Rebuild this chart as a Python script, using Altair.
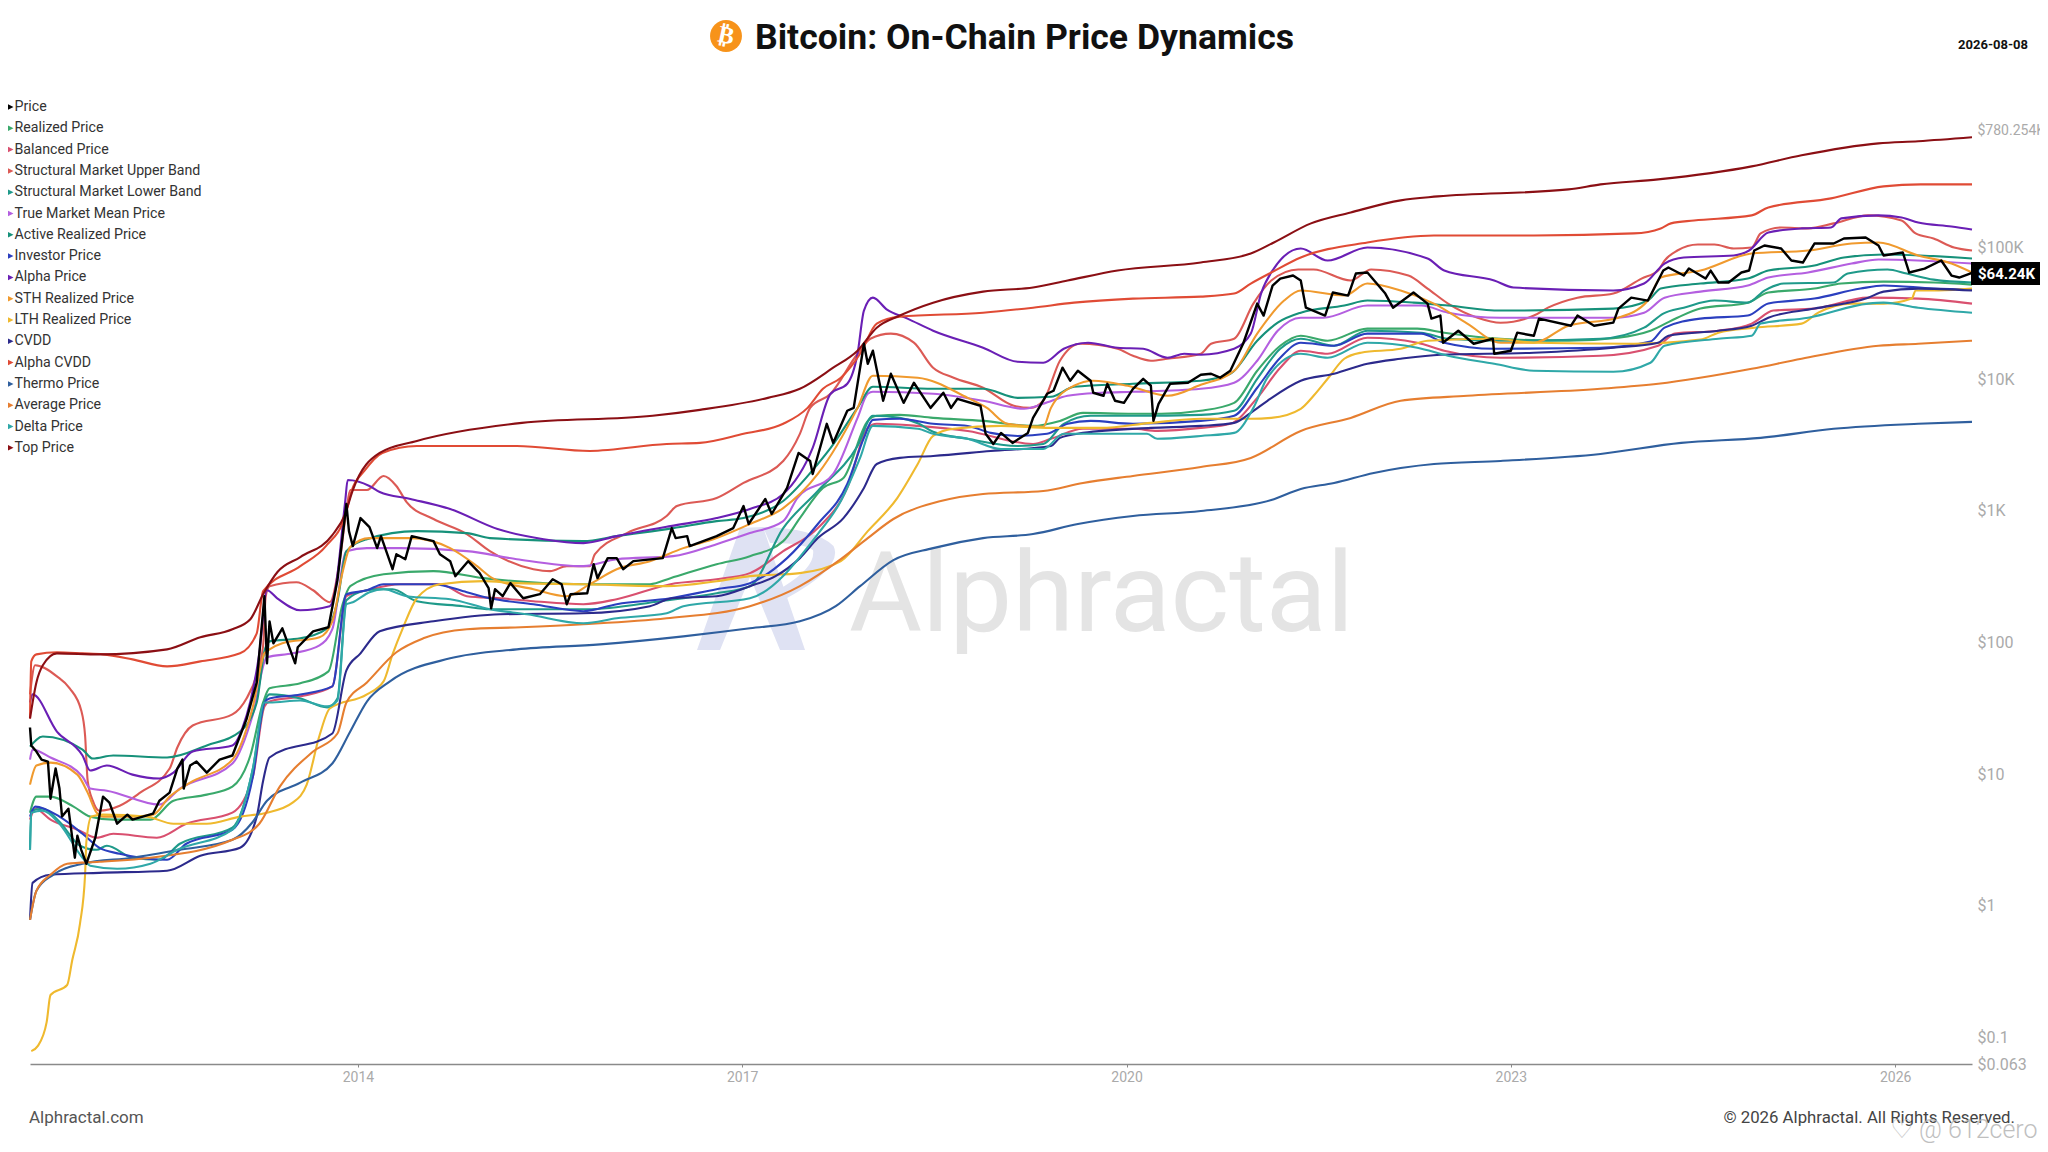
import altair as alt
import pandas as pd

# Each series: (decimal year, log10 of USD price).
TOP = [(2011.44,1.423),(2011.49,1.697),(2011.54,1.827),(2011.65,1.918),(2011.98,1.910),(2012.51,1.948),(2012.77,2.040),(2013.02,2.101),(2013.16,2.177),(2013.26,2.367),(2013.37,2.534),(2013.55,2.649),(2013.80,2.816),(2013.90,2.976),(2013.96,3.158),(2014.17,3.440),(2014.46,3.531),(2015.28,3.668),(2016.30,3.722),(2016.67,3.767),(2017.20,3.858),(2017.45,3.927),(2017.71,4.087),(2017.90,4.216),(2018.05,4.391),(2018.23,4.483),(2018.49,4.581),(2018.88,4.665),(2019.27,4.696),(2019.54,4.749),(2019.93,4.825),(2020.58,4.886),(2020.97,4.954),(2021.15,5.038),(2021.44,5.183),(2021.75,5.266),(2022.14,5.358),(2022.43,5.388),(2023.45,5.441),(2023.70,5.479),(2024.15,5.517),(2024.88,5.616),(2025.27,5.700),(2025.87,5.791),(2026.18,5.807),(2026.60,5.837)]
ALPHA_CVDD = [(2011.44,1.423),(2011.45,1.857),(2011.49,1.910),(2011.65,1.926),(2011.85,1.918),(2012.01,1.910),(2012.24,1.872),(2012.51,1.819),(2012.77,1.857),(2013.08,1.918),(2013.21,2.070),(2013.26,2.390),(2013.55,2.580),(2013.75,2.732),(2013.90,2.961),(2013.95,3.151),(2014.05,3.303),(2014.19,3.440),(2014.46,3.493),(2015.24,3.493),(2015.81,3.455),(2016.41,3.508),(2016.67,3.516),(2017.01,3.585),(2017.32,3.661),(2017.51,3.782),(2017.63,3.927),(2017.77,4.011),(2017.92,4.193),(2018.05,4.422),(2018.23,4.475),(2018.88,4.505),(2019.27,4.543),(2019.59,4.581),(2020.05,4.612),(2020.58,4.627),(2020.84,4.650),(2020.97,4.726),(2021.13,4.810),(2021.36,4.924),(2021.88,5.038),(2022.40,5.091),(2023.18,5.091),(2023.96,5.107),(2024.17,5.145),(2024.25,5.183),(2024.43,5.205),(2024.88,5.244),(2025.01,5.304),(2025.50,5.373),(2025.91,5.464),(2026.20,5.479),(2026.60,5.479)]
STRUCT_UPPER = [(2011.44,1.606),(2011.48,1.827),(2011.65,1.743),(2011.75,1.652),(2011.84,1.484),(2011.87,1.294),(2011.89,0.951),(2011.93,0.799),(2011.98,0.723),(2012.14,0.761),(2012.30,0.860),(2012.53,1.043),(2012.59,1.203),(2012.71,1.370),(2013.02,1.454),(2013.13,1.575),(2013.21,1.758),(2013.26,1.979),(2013.28,2.352),(2013.31,2.428),(2013.52,2.458),(2013.65,2.397),(2013.78,2.306),(2013.86,2.633),(2013.91,3.006),(2013.94,3.158),(2014.07,3.158),(2014.20,3.265),(2014.30,3.189),(2014.38,3.067),(2014.59,2.938),(2014.85,2.824),(2015.03,2.694),(2015.37,2.557),(2015.50,2.542),(2015.63,2.580),(2015.81,2.580),(2015.85,2.671),(2016.10,2.831),(2016.41,2.961),(2016.49,3.037),(2016.80,3.097),(2017.01,3.212),(2017.32,3.379),(2017.45,3.585),(2017.53,3.782),(2017.69,3.889),(2017.90,4.193),(2018.00,4.307),(2018.16,4.346),(2018.34,4.277),(2018.49,4.087),(2018.65,4.011),(2018.88,3.935),(2019.12,3.798),(2019.25,3.782),(2019.35,3.836),(2019.48,4.140),(2019.64,4.269),(2019.93,4.231),(2020.05,4.178),(2020.19,4.140),(2020.32,4.155),(2020.58,4.193),(2020.66,4.269),(2020.84,4.307),(2020.99,4.574),(2021.13,4.749),(2021.34,4.833),(2021.46,4.833),(2021.75,4.749),(2021.91,4.833),(2022.20,4.787),(2022.35,4.688),(2022.51,4.574),(2022.74,4.467),(2022.92,4.429),(2023.18,4.483),(2023.29,4.543),(2023.52,4.619),(2023.80,4.650),(2024.02,4.764),(2024.15,4.825),(2024.20,4.901),(2024.30,4.977),(2024.46,5.023),(2024.59,5.023),(2024.74,4.992),(2024.88,5.000),(2024.95,5.107),(2025.11,5.152),(2025.32,5.145),(2025.52,5.183),(2025.79,5.244),(2026.05,5.205),(2026.16,5.107),(2026.30,5.068),(2026.46,5.000),(2026.60,4.977)]
ALPHA_PRICE = [(2011.44,1.545),(2011.46,1.606),(2011.65,1.324),(2011.85,1.142),(2011.91,1.028),(2012.04,1.066),(2012.24,0.997),(2012.45,0.967),(2012.56,1.012),(2012.71,1.172),(2013.02,1.218),(2013.10,1.355),(2013.23,1.918),(2013.29,2.397),(2013.37,2.336),(2013.55,2.245),(2013.78,2.276),(2013.82,2.382),(2013.90,3.067),(2013.92,3.234),(2014.09,3.189),(2014.17,3.143),(2014.41,3.090),(2014.72,3.014),(2015.09,2.862),(2015.45,2.785),(2015.76,2.755),(2016.02,2.808),(2016.44,2.884),(2016.80,2.945),(2017.06,3.014),(2017.32,3.128),(2017.55,3.478),(2017.69,3.889),(2017.82,3.965),(2017.90,4.193),(2017.95,4.521),(2018.02,4.619),(2018.13,4.528),(2018.29,4.460),(2018.49,4.368),(2018.88,4.239),(2019.15,4.132),(2019.35,4.125),(2019.51,4.231),(2019.70,4.277),(2019.93,4.239),(2020.13,4.231),(2020.32,4.163),(2020.45,4.193),(2020.58,4.186),(2020.84,4.231),(2020.97,4.346),(2021.05,4.650),(2021.15,4.840),(2021.36,4.992),(2021.57,4.901),(2021.88,5.000),(2022.35,4.916),(2022.48,4.825),(2022.87,4.749),(2023.02,4.696),(2023.80,4.673),(2024.04,4.726),(2024.20,4.878),(2024.35,4.924),(2024.74,4.939),(2024.86,4.977),(2025.01,5.114),(2025.27,5.145),(2025.50,5.152),(2025.58,5.221),(2025.87,5.244),(2026.05,5.228),(2026.18,5.190),(2026.44,5.160),(2026.60,5.137)]
ACTIVE = [(2011.44,1.210),(2011.54,1.286),(2011.85,1.187),(2011.93,1.119),(2012.09,1.142),(2012.51,1.127),(2012.82,1.218),(2013.08,1.324),(2013.21,1.545),(2013.27,1.933),(2013.31,2.009),(2013.55,2.032),(2013.76,2.108),(2013.84,2.314),(2013.91,2.694),(2014.07,2.785),(2014.46,2.846),(2014.85,2.831),(2015.03,2.793),(2015.76,2.770),(2016.02,2.808),(2016.46,2.869),(2016.80,2.922),(2017.01,2.945),(2017.32,3.075),(2017.59,3.356),(2017.69,3.478),(2017.90,3.782),(2018.02,3.942),(2018.49,3.927),(2018.88,3.927),(2019.15,3.858),(2019.41,3.866),(2019.59,3.942),(2020.05,3.965),(2020.58,3.988),(2020.81,4.041),(2021.02,4.292),(2021.18,4.429),(2021.36,4.505),(2021.70,4.559),(2021.88,4.597),(2022.24,4.581),(2022.51,4.559),(2022.92,4.521),(2023.80,4.536),(2024.07,4.597),(2024.17,4.688),(2024.48,4.726),(2024.85,4.764),(2025.01,4.825),(2025.37,4.863),(2025.60,4.924),(2025.91,4.947),(2026.60,4.916)]
TRUE_MEAN = [(2011.44,1.111),(2011.46,1.187),(2011.60,1.127),(2011.85,0.982),(2011.91,0.891),(2012.04,0.875),(2012.45,0.769),(2012.61,0.891),(2013.02,1.081),(2013.18,1.454),(2013.29,1.888),(2013.49,1.918),(2013.70,1.979),(2013.80,2.101),(2013.91,2.694),(2014.07,2.717),(2014.33,2.717),(2014.85,2.694),(2015.24,2.633),(2015.76,2.580),(2016.02,2.633),(2016.46,2.656),(2016.80,2.747),(2017.06,2.831),(2017.32,2.922),(2017.43,3.097),(2017.71,3.280),(2017.90,3.706),(2017.98,3.889),(2018.02,3.904),(2018.49,3.889),(2018.88,3.836),(2019.20,3.775),(2019.35,3.813),(2019.54,3.874),(2019.80,3.897),(2020.05,3.904),(2020.58,3.927),(2020.84,3.973),(2021.02,4.140),(2021.18,4.368),(2021.36,4.467),(2021.54,4.467),(2021.88,4.559),(2022.30,4.559),(2022.51,4.505),(2022.92,4.467),(2023.80,4.467),(2024.04,4.505),(2024.20,4.619),(2024.48,4.665),(2024.85,4.711),(2025.01,4.772),(2025.32,4.810),(2025.66,4.878),(2025.87,4.909),(2026.60,4.878)]
STH = [(2011.44,0.921),(2011.49,1.066),(2011.60,1.088),(2011.81,0.997),(2011.89,0.860),(2011.96,0.708),(2012.01,0.678),(2012.24,0.678),(2012.40,0.693),(2012.53,0.830),(2012.69,0.936),(2013.02,1.111),(2013.18,1.515),(2013.27,1.918),(2013.31,1.948),(2013.41,1.994),(2013.70,2.040),(2013.80,2.161),(2013.88,2.534),(2013.94,2.725),(2014.09,2.793),(2014.41,2.793),(2014.72,2.717),(2014.93,2.580),(2015.05,2.489),(2015.37,2.405),(2015.63,2.352),(2015.81,2.443),(2016.02,2.557),(2016.28,2.618),(2016.54,2.717),(2016.80,2.793),(2017.06,2.900),(2017.32,3.021),(2017.59,3.280),(2017.90,3.782),(2018.02,4.026),(2018.37,4.011),(2018.76,3.858),(2018.91,3.782),(2019.07,3.661),(2019.35,3.638),(2019.41,3.782),(2019.59,3.950),(2019.74,3.988),(2020.01,3.950),(2020.32,3.874),(2020.58,3.957),(2020.84,4.064),(2021.02,4.346),(2021.23,4.597),(2021.36,4.673),(2021.70,4.635),(2021.88,4.726),(2022.14,4.673),(2022.40,4.574),(2022.66,4.422),(2022.92,4.277),(2023.18,4.277),(2023.45,4.406),(2023.84,4.467),(2024.07,4.597),(2024.17,4.772),(2024.48,4.825),(2024.88,4.954),(2025.32,4.977),(2025.66,5.030),(2025.87,5.038),(2026.18,4.939),(2026.44,4.878),(2026.60,4.810)]
PRICE = [(2011.44,1.355),(2011.45,1.218),(2011.49,1.172),(2011.53,1.111),(2011.58,1.096),(2011.60,0.814),(2011.64,1.043),(2011.67,0.891),(2011.69,0.678),(2011.74,0.738),(2011.79,0.366),(2011.81,0.533),(2011.84,0.426),(2011.88,0.320),(2011.95,0.518),(2012.01,0.830),(2012.06,0.784),(2012.12,0.624),(2012.20,0.693),(2012.24,0.655),(2012.40,0.700),(2012.45,0.799),(2012.53,0.860),(2012.59,1.043),(2012.63,1.111),(2012.64,0.891),(2012.69,1.066),(2012.74,1.096),(2012.82,1.012),(2012.92,1.111),(2013.02,1.142),(2013.13,1.416),(2013.21,1.697),(2013.27,2.352),(2013.29,1.842),(2013.31,2.161),(2013.34,1.994),(2013.41,2.108),(2013.51,1.842),(2013.53,1.964),(2013.65,2.085),(2013.77,2.116),(2013.84,2.473),(2013.91,3.052),(2013.93,2.846),(2013.96,2.732),(2014.02,2.945),(2014.09,2.877),(2014.15,2.717),(2014.18,2.808),(2014.27,2.557),(2014.30,2.671),(2014.37,2.633),(2014.42,2.808),(2014.59,2.770),(2014.64,2.671),(2014.72,2.618),(2014.76,2.504),(2014.86,2.618),(2014.95,2.527),(2015.02,2.413),(2015.04,2.260),(2015.07,2.405),(2015.13,2.352),(2015.19,2.451),(2015.29,2.336),(2015.42,2.367),(2015.52,2.481),(2015.59,2.443),(2015.63,2.291),(2015.66,2.367),(2015.79,2.374),(2015.84,2.595),(2015.87,2.489),(2015.95,2.641),(2016.02,2.641),(2016.07,2.557),(2016.15,2.618),(2016.38,2.641),(2016.45,2.869),(2016.48,2.793),(2016.57,2.808),(2016.59,2.732),(2016.80,2.808),(2016.93,2.869),(2017.01,3.037),(2017.05,2.900),(2017.18,3.090),(2017.23,2.976),(2017.35,3.174),(2017.44,3.440),(2017.53,3.379),(2017.55,3.280),(2017.66,3.661),(2017.71,3.516),(2017.82,3.760),(2017.87,3.782),(2017.95,4.269),(2017.98,4.117),(2018.02,4.216),(2018.10,3.836),(2018.16,4.041),(2018.26,3.820),(2018.34,3.973),(2018.47,3.782),(2018.57,3.897),(2018.63,3.782),(2018.68,3.851),(2018.86,3.798),(2018.90,3.585),(2018.96,3.508),(2019.02,3.592),(2019.11,3.516),(2019.23,3.592),(2019.27,3.706),(2019.38,3.889),(2019.43,3.912),(2019.50,4.087),(2019.56,3.988),(2019.62,4.064),(2019.72,3.988),(2019.74,3.897),(2019.82,3.874),(2019.85,3.965),(2019.91,3.836),(2019.98,3.820),(2020.05,3.927),(2020.13,4.003),(2020.19,3.950),(2020.21,3.683),(2020.25,3.813),(2020.34,3.965),(2020.48,3.973),(2020.58,4.034),(2020.66,4.041),(2020.73,4.011),(2020.81,4.064),(2020.91,4.269),(2021.02,4.574),(2021.07,4.483),(2021.14,4.711),(2021.20,4.764),(2021.30,4.787),(2021.36,4.749),(2021.40,4.543),(2021.55,4.483),(2021.61,4.658),(2021.73,4.635),(2021.79,4.802),(2021.88,4.810),(2022.02,4.650),(2022.08,4.543),(2022.24,4.658),(2022.35,4.574),(2022.38,4.460),(2022.45,4.483),(2022.47,4.277),(2022.59,4.368),(2022.71,4.269),(2022.86,4.307),(2022.87,4.193),(2023.00,4.216),(2023.05,4.353),(2023.18,4.330),(2023.22,4.460),(2023.47,4.406),(2023.52,4.483),(2023.65,4.406),(2023.80,4.429),(2023.84,4.536),(2023.94,4.619),(2024.07,4.597),(2024.19,4.825),(2024.23,4.848),(2024.35,4.787),(2024.39,4.840),(2024.52,4.764),(2024.56,4.825),(2024.62,4.734),(2024.70,4.734),(2024.80,4.810),(2024.86,4.825),(2024.90,4.977),(2024.98,5.015),(2025.11,4.992),(2025.19,4.901),(2025.28,4.886),(2025.37,5.030),(2025.52,5.030),(2025.60,5.068),(2025.77,5.076),(2025.87,5.015),(2025.91,4.939),(2026.06,4.962),(2026.11,4.810),(2026.23,4.840),(2026.36,4.901),(2026.44,4.787),(2026.50,4.772),(2026.60,4.808)]
REALIZED = [(2011.44,0.708),(2011.49,0.830),(2011.60,0.830),(2011.78,0.754),(2011.91,0.678),(2012.09,0.655),(2012.38,0.655),(2012.56,0.799),(2012.82,0.845),(2013.02,0.906),(2013.16,1.142),(2013.26,1.545),(2013.31,1.652),(2013.55,1.690),(2013.77,1.781),(2013.88,2.291),(2013.94,2.428),(2014.20,2.519),(2014.59,2.542),(2014.98,2.489),(2015.76,2.443),(2016.28,2.443),(2016.44,2.489),(2016.80,2.595),(2017.06,2.656),(2017.32,2.770),(2017.45,2.945),(2017.63,3.174),(2017.79,3.250),(2017.98,3.683),(2018.05,3.722),(2018.23,3.729),(2018.49,3.706),(2018.88,3.683),(2019.27,3.645),(2019.48,3.683),(2019.66,3.744),(2020.05,3.737),(2020.27,3.737),(2020.58,3.760),(2020.84,3.820),(2021.02,4.064),(2021.20,4.254),(2021.36,4.330),(2021.57,4.292),(2021.88,4.384),(2022.27,4.384),(2022.48,4.353),(2022.92,4.307),(2023.45,4.292),(2023.84,4.315),(2024.09,4.368),(2024.30,4.467),(2024.48,4.536),(2024.85,4.581),(2025.01,4.658),(2025.37,4.688),(2025.58,4.726),(2025.91,4.741),(2026.30,4.734),(2026.60,4.718)]
INVESTOR = [(2011.44,0.678),(2011.48,0.754),(2011.67,0.678),(2011.85,0.548),(2011.98,0.442),(2012.14,0.396),(2012.51,0.350),(2012.66,0.472),(2013.02,0.579),(2013.18,0.982),(2013.27,1.545),(2013.31,1.575),(2013.55,1.606),(2013.80,1.667),(2013.91,2.367),(2014.07,2.397),(2014.20,2.443),(2014.59,2.443),(2014.85,2.382),(2015.03,2.336),(2015.37,2.291),(2015.76,2.238),(2016.02,2.291),(2016.44,2.336),(2016.80,2.405),(2017.06,2.451),(2017.35,2.641),(2017.59,2.900),(2017.82,3.204),(2017.95,3.554),(2018.02,3.691),(2018.23,3.699),(2018.49,3.661),(2018.76,3.645),(2018.94,3.592),(2019.15,3.569),(2019.38,3.585),(2019.54,3.661),(2019.72,3.683),(2020.05,3.661),(2020.58,3.683),(2020.84,3.722),(2021.02,3.935),(2021.20,4.163),(2021.36,4.277),(2021.62,4.254),(2021.88,4.346),(2022.30,4.346),(2022.48,4.277),(2022.87,4.231),(2023.70,4.239),(2024.09,4.285),(2024.20,4.391),(2024.48,4.460),(2024.85,4.483),(2025.01,4.574),(2025.37,4.612),(2025.73,4.688),(2025.91,4.711),(2026.30,4.688),(2026.60,4.680)]
BALANCED = [(2011.44,0.655),(2011.48,0.738),(2011.60,0.655),(2011.81,0.579),(2011.96,0.518),(2012.09,0.548),(2012.43,0.518),(2012.66,0.624),(2013.02,0.708),(2013.18,0.982),(2013.27,1.515),(2013.31,1.553),(2013.55,1.591),(2013.80,1.667),(2013.91,2.352),(2014.07,2.397),(2014.33,2.443),(2014.64,2.443),(2014.85,2.352),(2015.11,2.336),(2015.37,2.314),(2015.76,2.291),(2016.02,2.329),(2016.44,2.443),(2016.80,2.481),(2017.06,2.527),(2017.32,2.694),(2017.59,2.869),(2017.82,3.174),(2017.98,3.630),(2018.05,3.661),(2018.37,3.645),(2018.76,3.607),(2019.27,3.508),(2019.41,3.547),(2019.66,3.623),(2020.05,3.623),(2020.24,3.607),(2020.58,3.630),(2020.81,3.661),(2021.02,3.858),(2021.20,4.087),(2021.36,4.216),(2021.57,4.193),(2021.88,4.315),(2022.27,4.277),(2022.48,4.216),(2022.92,4.163),(2023.70,4.178),(2024.15,4.254),(2024.28,4.346),(2024.62,4.368),(2024.88,4.422),(2025.05,4.521),(2025.37,4.536),(2025.79,4.619),(2026.18,4.612),(2026.60,4.574)]
STRUCT_LOWER = [(2011.44,0.426),(2011.45,0.723),(2011.54,0.738),(2011.67,0.639),(2011.83,0.457),(2011.96,0.426),(2012.04,0.457),(2012.24,0.366),(2012.45,0.350),(2012.61,0.472),(2013.02,0.594),(2013.18,1.043),(2013.27,1.545),(2013.31,1.606),(2013.55,1.575),(2013.76,1.507),(2013.84,1.575),(2013.91,2.321),(2014.07,2.397),(2014.17,2.405),(2014.27,2.405),(2014.46,2.314),(2014.82,2.276),(2015.03,2.253),(2015.32,2.253),(2015.79,2.253),(2016.36,2.314),(2016.80,2.374),(2017.06,2.428),(2017.32,2.869),(2017.59,3.151),(2017.90,3.493),(2018.02,3.722),(2018.23,3.706),(2018.38,3.661),(2018.49,3.600),(2018.76,3.547),(2019.15,3.493),(2019.35,3.508),(2019.51,3.661),(2019.72,3.722),(2020.05,3.722),(2020.58,3.729),(2020.84,3.760),(2021.02,4.003),(2021.20,4.231),(2021.36,4.307),(2021.62,4.254),(2021.88,4.368),(2022.30,4.353),(2022.51,4.307),(2022.92,4.292),(2023.70,4.307),(2024.04,4.391),(2024.19,4.498),(2024.35,4.543),(2024.59,4.597),(2024.85,4.581),(2024.98,4.673),(2025.13,4.726),(2025.52,4.734),(2025.63,4.802),(2025.94,4.833),(2026.09,4.802),(2026.30,4.756),(2026.60,4.734)]
DELTA = [(2011.44,0.426),(2011.45,0.708),(2011.54,0.723),(2011.67,0.624),(2011.85,0.366),(2011.91,0.305),(2012.12,0.282),(2012.38,0.320),(2012.59,0.426),(2013.02,0.579),(2013.18,1.043),(2013.27,1.545),(2013.31,1.545),(2013.55,1.560),(2013.76,1.515),(2013.84,1.560),(2013.91,2.291),(2013.96,2.306),(2014.09,2.382),(2014.20,2.405),(2014.38,2.352),(2014.72,2.329),(2015.03,2.253),(2015.32,2.215),(2015.76,2.146),(2016.02,2.184),(2016.41,2.222),(2016.54,2.276),(2017.06,2.336),(2017.59,2.824),(2017.77,3.075),(2017.92,3.402),(2018.02,3.645),(2018.37,3.623),(2018.49,3.585),(2018.76,3.547),(2019.02,3.470),(2019.35,3.470),(2019.51,3.585),(2019.80,3.585),(2020.16,3.585),(2020.24,3.547),(2020.58,3.569),(2020.84,3.592),(2020.99,3.782),(2021.10,4.011),(2021.36,4.193),(2021.57,4.163),(2021.88,4.277),(2022.27,4.239),(2022.51,4.178),(2022.87,4.117),(2023.18,4.064),(2023.80,4.056),(2024.09,4.125),(2024.20,4.254),(2024.62,4.307),(2024.88,4.330),(2024.95,4.422),(2025.32,4.467),(2025.79,4.574),(2025.91,4.581),(2026.18,4.543),(2026.60,4.505)]
CVDD = [(2011.44,-0.106),(2011.46,0.175),(2011.60,0.236),(2011.98,0.251),(2012.51,0.267),(2012.77,0.381),(2013.08,0.442),(2013.21,0.678),(2013.26,0.951),(2013.31,1.127),(2013.80,1.309),(2013.91,1.789),(2014.02,1.918),(2014.17,2.085),(2014.59,2.161),(2015.11,2.215),(2015.76,2.222),(2016.28,2.276),(2016.45,2.336),(2016.80,2.352),(2017.06,2.428),(2017.26,2.504),(2017.45,2.641),(2017.59,2.793),(2017.79,2.945),(2017.95,3.174),(2018.05,3.356),(2018.23,3.402),(2018.49,3.417),(2018.94,3.455),(2019.41,3.493),(2019.48,3.554),(2019.66,3.592),(2020.19,3.630),(2020.58,3.645),(2020.84,3.668),(2020.97,3.744),(2021.10,3.836),(2021.36,3.988),(2021.62,4.041),(2021.88,4.117),(2022.14,4.155),(2022.45,4.186),(2023.18,4.201),(2023.80,4.239),(2024.15,4.277),(2024.23,4.330),(2024.62,4.368),(2024.88,4.406),(2025.01,4.467),(2025.37,4.536),(2025.79,4.619),(2025.91,4.665),(2026.18,4.688),(2026.60,4.673)]
LTH = [(2011.45,-1.103),(2011.50,-1.065),(2011.57,-0.883),(2011.60,-0.677),(2011.73,-0.601),(2011.77,-0.411),(2011.83,-0.137),(2011.87,0.236),(2011.88,0.487),(2011.92,0.678),(2012.01,0.693),(2012.35,0.678),(2012.56,0.624),(2012.82,0.624),(2013.08,0.678),(2013.29,0.708),(2013.49,0.784),(2013.60,0.921),(2013.70,1.294),(2013.78,1.499),(2014.07,1.606),(2014.20,1.705),(2014.27,1.910),(2014.35,2.108),(2014.46,2.336),(2014.64,2.443),(2014.98,2.466),(2015.24,2.451),(2015.76,2.443),(2016.41,2.428),(2016.80,2.466),(2017.06,2.504),(2017.45,2.527),(2017.77,2.618),(2017.98,2.846),(2018.21,3.097),(2018.37,3.356),(2018.49,3.569),(2018.65,3.623),(2019.02,3.645),(2019.41,3.630),(2019.80,3.630),(2020.19,3.668),(2020.58,3.699),(2020.97,3.699),(2021.13,3.706),(2021.36,3.775),(2021.46,3.874),(2021.57,4.003),(2021.70,4.155),(2021.83,4.201),(2022.14,4.231),(2022.35,4.292),(2022.87,4.307),(2023.18,4.277),(2023.96,4.269),(2024.48,4.300),(2024.62,4.353),(2024.90,4.391),(2025.27,4.422),(2025.40,4.505),(2025.66,4.574),(2025.91,4.574),(2026.13,4.612),(2026.16,4.673),(2026.34,4.673),(2026.60,4.688)]
THERMO = [(2011.44,-0.106),(2011.49,0.114),(2011.62,0.236),(2011.85,0.320),(2012.24,0.366),(2012.61,0.426),(2013.02,0.502),(2013.18,0.639),(2013.29,0.799),(2013.55,0.936),(2013.80,1.081),(2013.94,1.324),(2014.07,1.552),(2014.25,1.705),(2014.72,1.880),(2015.24,1.948),(2015.89,1.986),(2016.54,2.047),(2017.06,2.108),(2017.45,2.161),(2017.73,2.276),(2017.92,2.428),(2018.18,2.626),(2018.49,2.717),(2018.88,2.793),(2019.27,2.824),(2019.62,2.900),(2020.05,2.961),(2020.58,2.999),(2021.13,3.082),(2021.36,3.166),(2021.62,3.212),(2021.93,3.288),(2022.40,3.356),(2022.92,3.379),(2023.70,3.432),(2024.33,3.516),(2024.95,3.554),(2025.52,3.623),(2026.18,3.661),(2026.60,3.676)]
AVERAGE = [(2011.44,-0.106),(2011.49,0.114),(2011.60,0.236),(2011.73,0.320),(2011.98,0.335),(2012.38,0.366),(2013.02,0.502),(2013.23,0.624),(2013.39,0.906),(2013.65,1.172),(2013.84,1.309),(2013.91,1.545),(2014.07,1.697),(2014.30,1.926),(2014.51,2.032),(2014.85,2.101),(2015.27,2.116),(2015.76,2.139),(2016.41,2.184),(2017.06,2.276),(2017.45,2.428),(2017.77,2.633),(2017.98,2.793),(2018.18,2.938),(2018.55,3.075),(2018.88,3.128),(2019.35,3.151),(2019.66,3.212),(2020.05,3.265),(2020.58,3.333),(2020.97,3.402),(2021.36,3.607),(2021.75,3.706),(2022.14,3.836),(2022.66,3.874),(2023.70,3.927),(2024.15,3.965),(2024.88,4.079),(2025.27,4.155),(2025.87,4.254),(2026.18,4.269),(2026.60,4.292)]

NAMES = ["Price","Realized Price","Balanced Price","Structural Market Upper Band","Structural Market Lower Band","True Market Mean Price","Active Realized Price","Investor Price","Alpha Price","STH Realized Price","LTH Realized Price","CVDD","Alpha CVDD","Thermo Price","Average Price","Delta Price","Top Price"]
COLORS = ["#000000","#3aa96b","#d9506f","#dc5a55","#1f9a8a","#b45fe0","#16917a","#2b3fbf","#6a1fb5","#f09a2e","#efb92e","#2c2a8c","#e04b35","#2f5f9e","#e67e30","#2fa8a8","#8b0f14"]
SERIES = [PRICE,REALIZED,BALANCED,STRUCT_UPPER,STRUCT_LOWER,TRUE_MEAN,ACTIVE,INVESTOR,ALPHA_PRICE,STH,LTH,CVDD,ALPHA_CVDD,THERMO,AVERAGE,DELTA,TOP]
X_TICKS = [2014, 2017, 2020, 2023, 2026]
Y_TICKS = [0.063, 0.1, 1, 10, 100, 1000, 10000, 100000, 780254]

rows = []
for name, pts in zip(NAMES, SERIES):
    for order, (yr, lg) in enumerate(pts):
        rows.append({"series": name, "year": yr, "price": 10 ** lg, "order": order})
df = pd.DataFrame(rows)

FONT = "Roboto"
one = pd.DataFrame({"k": [0]})

def label(text, x, y, **kw):
    return alt.Chart(one).mark_text(font=FONT, **kw).encode(
        x=alt.value(x), y=alt.value(y), text=alt.value(text))

color = alt.Color("series:N", scale=alt.Scale(domain=NAMES, range=COLORS), legend=None)
x = alt.X("year:Q", scale=alt.Scale(domain=[2011.44, 2026.60], nice=False), axis=alt.Axis(
    values=X_TICKS, format="d", title=None, grid=False, domainColor="#8a8a8a", domainWidth=1.5,
    tickColor="#8a8a8a", tickSize=3, labelColor="#aaaaaa", labelFont=FONT, labelFontSize=14,
    labelPadding=3, labelFlush=False, labelOverlap=False))
y = alt.Y("price:Q", scale=alt.Scale(type="log", domain=[0.063, 780254], nice=False), axis=alt.Axis(
    orient="right", values=Y_TICKS, title=None, grid=False, domain=False, ticks=False,
    labelColor="#aaaaaa", labelFont=FONT,
    labelFontSize={"condition": {"test": "datum.value >= 780000", "value": 14}, "value": 16},
    labelPadding=5, labelOverlap=False, labelBound=False, labelFlush=False,
    labelExpr="datum.value >= 780000 ? '$780.254K' : datum.value >= 1000 ? '$' + datum.value / 1000 + 'K' : '$' + datum.value"))

LOGO = ("M-1,0.886L-0.386,-0.857L-0.057,-0.871L0.543,0.886L0.186,0.886L-0.243,-0.157L-0.671,0.886Z"
        "M-0.057,-0.871Q0.7,-0.85 0.95,-0.6Q1.1,-0.3 0.286,0.143L0.229,-0.014Q0.7,-0.3 0.657,-0.543Q0.5,-0.65 0.043,-0.643Z")

logo = alt.Chart(one).mark_point(shape=LOGO, filled=True, size=19600, color="#dfe2f3", opacity=1).encode(
    x=alt.value(737), y=alt.value(458))
wordmark = label("Alphractal", 819, 501, fontSize=112, fontWeight=400, color="#e4e4e4", align="left", baseline="alphabetic")

lines = alt.Chart(df[df.series != "Price"]).mark_line(strokeWidth=2.1, strokeJoin="round", interpolate="monotone").encode(
    x=x, y=y, color=color, detail="series:N", order="order:Q")
price = alt.Chart(df[df.series == "Price"]).mark_line(strokeWidth=2.4, strokeJoin="round").encode(
    x=x, y=y, color=color, order="order:Q")

# Key at the top left: a small flattened diamond and a label per series.
LEGEND_SYMBOL = "M-1,0L0,-0.5L1,0L0,0.5Z"
legend_layers = []
for i, (name, col) in enumerate(zip(NAMES, COLORS)):
    row_y = -23 + i * 21.3
    legend_layers.append(alt.Chart(one).mark_point(shape=LEGEND_SYMBOL, filled=True, size=169, color=col, opacity=1).encode(
        x=alt.value(-23), y=alt.value(row_y)))
    legend_layers.append(label(name, -15.5, row_y, fontSize=14.2, color="#333333", align="left", baseline="middle"))

badge = alt.Chart(one).mark_rect(color="#000000").encode(
    x=alt.value(1941), x2=alt.value(2010), y=alt.value(132), y2=alt.value(155))
badge_text = label("$64.24K", 1948, 143.5, fontSize=15, fontWeight="bold", color="#ffffff", align="left", baseline="middle")

icon = alt.Chart(one).mark_point(shape="circle", filled=True, size=1018, color="#f7931a", opacity=1).encode(
    x=alt.value(696), y=alt.value(-94))
icon_b = alt.Chart(one).mark_text(font="DejaVu Sans", fontSize=24, fontWeight="bold", color="#ffffff", angle=12, align="center", baseline="middle").encode(
    x=alt.value(696), y=alt.value(-94), text=alt.value("₿"))
title = label("Bitcoin: On-Chain Price Dynamics", 725, -92, fontSize=35.6, fontWeight="bold", color="#111111", align="left", baseline="middle")
date = label("2026-08-08", 1998, -85, fontSize=13, fontWeight="bold", color="#111111", align="right", baseline="middle")
foot_l = label("Alphractal.com", -1, 988, fontSize=17, color="#555555", align="left", baseline="middle")
foot_r = label("© 2026 Alphractal. All Rights Reserved.", 1985, 988, fontSize=16.8, color="#444444", align="right", baseline="middle")
wm_icon = alt.Chart(one).mark_text(font="DejaVu Sans", fontSize=26, color="#bbbbbb", opacity=0.8, align="center", baseline="middle").encode(
    x=alt.value(1872), y=alt.value(1000), text=alt.value("♡"))
wm = label("@ 612cero", 1889, 1000, fontSize=25, fontWeight=300, color="#b5b5b5", opacity=0.85, align="left", baseline="middle")

chart = alt.layer(logo, wordmark, lines, price, badge, badge_text, *legend_layers, icon, icon_b, title, date, foot_l, foot_r, wm_icon, wm).properties(
    width=1942, height=934, background="white",
    padding={"left": 22, "top": 122, "right": 68, "bottom": 80},
    autosize=alt.AutoSizeParams(type="none"),
).configure_view(stroke=None)

chart.save("out.html", embed_options={"renderer": "svg", "actions": False})
